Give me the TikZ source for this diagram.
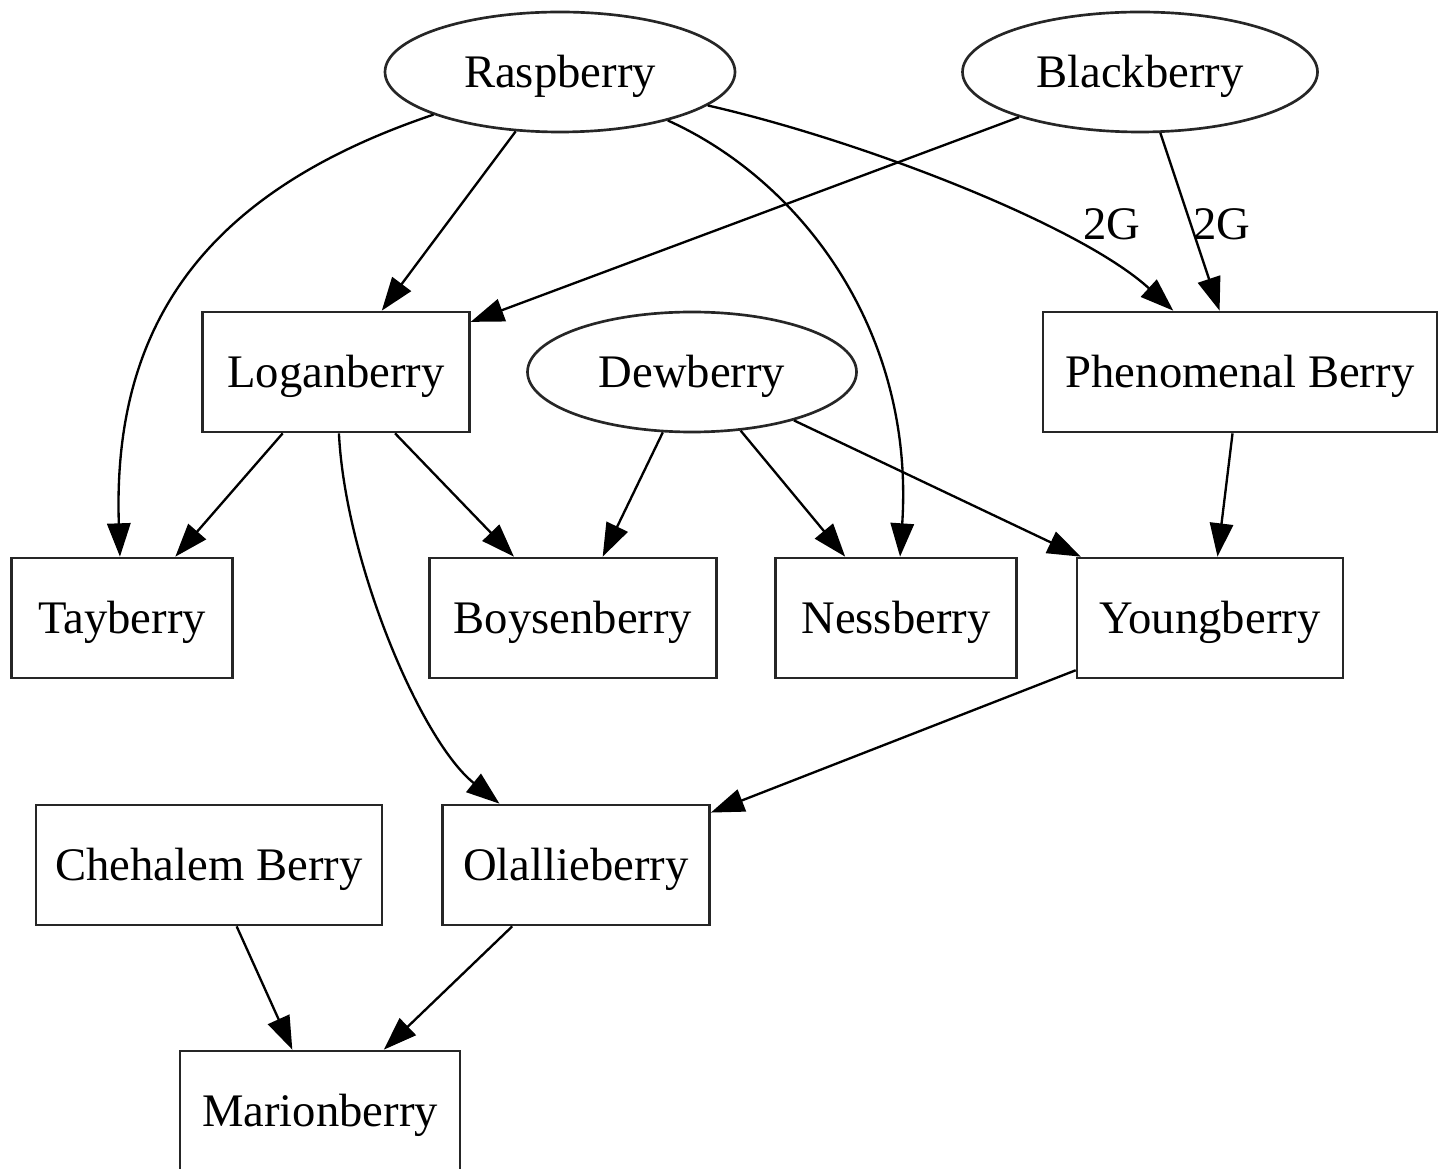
\documentclass[tikz,border=0pt]{standalone}
\usepackage{fontspec}
\setmainfont{Liberation Serif}
\usepackage{tikz}
\usetikzlibrary{shapes.geometric, arrows.meta}
\tikzstyle{berry} = [rectangle, minimum height=36pt, inner sep=0pt, text height=11.5pt, text depth=2pt, text centered, draw = black!85, line width=0.8pt, font=\fontsize{14}{16}\selectfont]
\tikzstyle{parent} = [ellipse, minimum height=36pt, inner sep=0pt, text height=11.5pt, text depth=2pt, text centered, draw = black!85, line width=0.8pt, font=\fontsize{14}{16}\selectfont]
\tikzstyle{lbl} = [inner sep=0pt, font=\fontsize{14}{16}\selectfont]
\tikzstyle{arrow} = [-{Triangle[length=10pt,width=7pt]}, line width=0.7pt]

\begin{document}
\begin{tikzpicture}[x=0.3pt, y=-0.3pt]
	\useasboundingbox (0,0) rectangle (1447,1169);
	\node (rasp) [parent, minimum width=105pt] at (560,72) {Raspberry};
	\node (black) [parent, minimum width=106.5pt] at (1140,72) {Blackberry};
	\node (logan) [berry, minimum width=80pt] at (336,372) {Loganberry};
	\node (dew) [parent, minimum width=98.7pt] at (692,372) {Dewberry};
	\node (pheno) [berry, minimum width=118.2pt] at (1240,372) {Phenomenal Berry};
	\node (tay) [berry, minimum width=66.3pt] at (122,618) {Tayberry};
	\node (boysen) [berry, minimum width=86.1pt] at (573,618) {Boysenberry};
	\node (ness) [berry, minimum width=72.3pt] at (896,618) {Nessberry};
	\node (young) [berry, minimum width=79.8pt] at (1210,618) {Youngberry};
	\node (chehalem) [berry, minimum width=103.8pt] at (209,865) {Chehalem Berry};
	\node (olallie) [berry, minimum width=80.1pt] at (576,865) {Olallieberry};
	\node (marion) [berry, minimum width=84pt] at (320,1111) {Marionberry};
	\node (lbl1) [lbl] at (1112,224) {2G};
	\node (lbl2) [lbl] at (1222,224) {2G};
	
	\draw [arrow](rasp) .. controls (210,190) and (112,320) .. (tay);
	\draw [arrow](rasp) -- (logan);
	\draw [arrow](rasp) .. controls (800,180) and (915,330) .. (ness);
	\draw [arrow](rasp) .. controls (860,140) and (1080,225) .. (pheno);
	\draw [arrow](black) -- (logan);
	\draw [arrow](black) -- (pheno);
	\draw [arrow](logan) -- (tay);
	\draw [arrow](logan) -- (boysen);
	\draw [arrow](logan) .. controls (345,560) and (420,740) .. (olallie);
	\draw [arrow](dew) -- (boysen);
	\draw [arrow](dew) -- (ness);
	\draw [arrow](dew) -- (young);
	\draw [arrow](pheno) -- (young);
	\draw [arrow](young) -- (olallie);
	\draw [arrow](chehalem) -- (marion);
	\draw [arrow](olallie) -- (marion);
\end{tikzpicture}
\end{document}
